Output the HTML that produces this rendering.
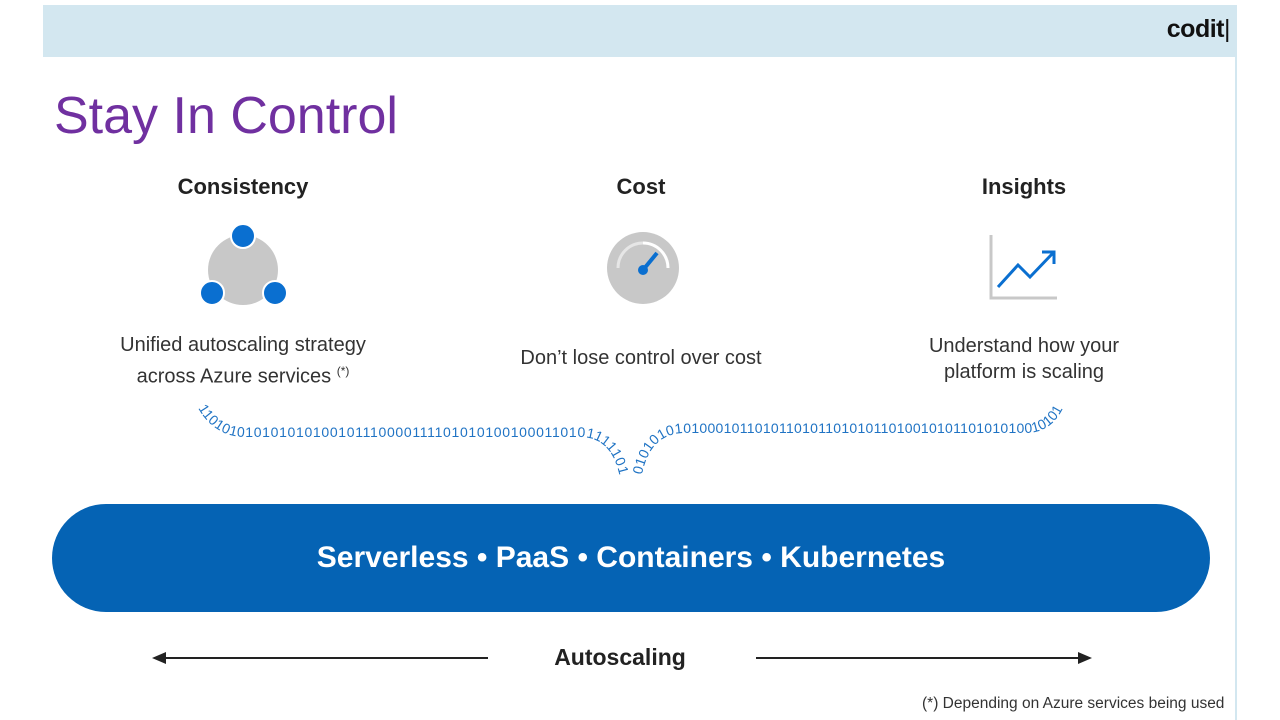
<!DOCTYPE html>
<html><head><meta charset="utf-8"><style>
body{margin:0;width:1280px;height:720px;background:#fff;position:relative;overflow:hidden;font-family:"Liberation Sans",sans-serif}
.hdr{position:absolute;left:43px;top:5px;width:1193px;height:52px;background:#d3e7f0}
.vl{position:absolute;left:1235px;top:5px;width:2px;height:715px;background:#d3e7f0}
.logo{position:absolute;right:50px;top:15px;font-weight:bold;font-size:25px;color:#111;letter-spacing:-0.5px}
.t{position:absolute;left:54px;top:86px;font-size:52px;color:#7030a0}
.h{position:absolute;font-size:22px;font-weight:bold;color:#222;text-align:center;width:300px}
.d{position:absolute;font-size:20px;color:#333;text-align:center;width:340px;line-height:26px}
.pill{position:absolute;left:52px;top:504px;width:1158px;height:108px;border-radius:54px;background:#0563b4;color:#fff;font-weight:bold;font-size:30px;text-align:center;line-height:108px}
.auto{position:absolute;left:520px;top:644px;width:200px;text-align:center;font-size:23px;font-weight:bold;color:#222}
.note{position:absolute;left:922px;top:695px;font-size:15.5px;color:#333}
</style></head><body>
<div class="hdr"></div><div class="vl"></div>
<div class="logo">codit<span style="font-weight:normal">|</span></div>
<div class="t">Stay In Control</div>
<div class="h" style="left:93px;top:174px">Consistency</div>
<div class="h" style="left:491px;top:174px">Cost</div>
<div class="h" style="left:874px;top:174px">Insights</div>
<div class="d" style="left:73px;top:332px">Unified autoscaling strategy<br>across Azure services <sup style="font-size:12px">(*)</sup></div>
<div class="d" style="left:471px;top:345px">Don’t lose control over cost</div>
<div class="d" style="left:854px;top:333px">Understand how your<br>platform is scaling</div>
<svg width="1280" height="720" style="position:absolute;left:0;top:0">
<circle cx="243" cy="270" r="35" fill="#c8c8c8"/>
<circle cx="243" cy="236" r="12" fill="#0a6fd0" stroke="#fff" stroke-width="2"/>
<circle cx="212" cy="293" r="12" fill="#0a6fd0" stroke="#fff" stroke-width="2"/>
<circle cx="275" cy="293" r="12" fill="#0a6fd0" stroke="#fff" stroke-width="2"/>
<circle cx="643" cy="268" r="36" fill="#c8c8c8"/>
<path d="M643 243 A25 25 0 0 1 668 268" stroke="#fff" stroke-width="3" fill="none"/>
<path d="M618 268 A25 25 0 0 1 643 243" stroke="#e6e6e6" stroke-width="3" fill="none"/>
<line x1="643" y1="270" x2="657" y2="253" stroke="#0a6fd0" stroke-width="4"/>
<circle cx="643" cy="270" r="5" fill="#0a6fd0"/>
<polyline points="991,235 991,298 1057,298" stroke="#c8c8c8" stroke-width="3" fill="none"/>
<polyline points="998,287 1018,265 1030,277 1053,253" stroke="#0a6fd0" stroke-width="3" fill="none"/>
<polyline points="1042,252 1054,252 1054,264" stroke="#0a6fd0" stroke-width="3" fill="none"/>
<defs>
<path id="p1" d="M198 408 Q215 437 245 437 L580 437 Q612 437 620 478"/>
<path id="p2" d="M642 475 Q650 433 685 433 L1025 433 Q1050 433 1062 410"/>
</defs>
<text font-size="14" fill="#1f73c4" font-family="Liberation Sans,sans-serif"><textPath href="#p1" textLength="470" lengthAdjust="spacing">110101010101010100101110000111101010100100011010111110101</textPath></text>
<text font-size="14" fill="#1f73c4" font-family="Liberation Sans,sans-serif"><textPath href="#p2" textLength="470" lengthAdjust="spacing">01010101010001011010110101101010110100101011010101001010101</textPath></text>
<line x1="162" y1="658" x2="488" y2="658" stroke="#222" stroke-width="2"/>
<polygon points="152,658 166,652 166,664" fill="#222"/>
<line x1="756" y1="658" x2="1082" y2="658" stroke="#222" stroke-width="2"/>
<polygon points="1092,658 1078,652 1078,664" fill="#222"/>
</svg>
<div class="pill">Serverless • PaaS • Containers • Kubernetes</div>
<div class="auto">Autoscaling</div>
<div class="note">(*) Depending on Azure services being used</div>
</body></html>
